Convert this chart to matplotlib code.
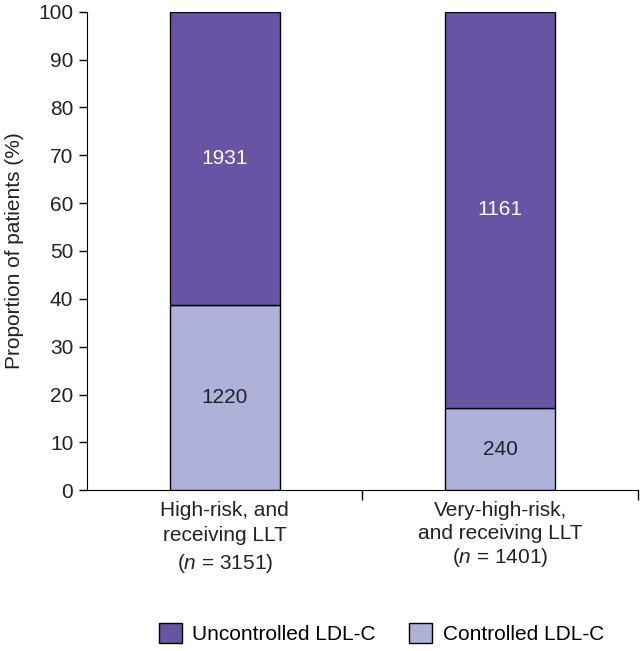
import numpy as np
import matplotlib
matplotlib.use('Agg')
import matplotlib.pyplot as plt

plt.rcParams['font.family'] = ['Liberation Sans', 'DejaVu Sans']
plt.rcParams['mathtext.fontset'] = 'custom'
plt.rcParams['mathtext.it'] = 'Liberation Sans:italic'
plt.rcParams['mathtext.rm'] = 'Liberation Sans'

# data
groups = ['High-risk, and\nreceiving LLT\n($\\it{n}$ = 3151)',
          'Very-high-risk,\nand receiving LLT\n($\\it{n}$ = 1401)']
controlled = np.array([1220, 240])
uncontrolled = np.array([1931, 1161])
total = controlled + uncontrolled
pct_ctrl = controlled / total * 100
pct_unctrl = uncontrolled / total * 100

dark = '#6754a5'
light = '#aeb1da'
txt = '#222222'
fs = 15

fig = plt.figure(figsize=(6.41, 6.51), dpi=100)
ax = fig.add_axes([0.136, 0.247, 0.859, 0.735])

x = np.array([0.5, 1.5])
w = 0.4
ax.bar(x, pct_ctrl, w, color=light, edgecolor='black', linewidth=1, label='Controlled LDL-C')
ax.bar(x, pct_unctrl, w, bottom=pct_ctrl, color=dark, edgecolor='black', linewidth=1,
       label='Uncontrolled LDL-C')

for xi, c, u, pc, pu in zip(x, controlled, uncontrolled, pct_ctrl, pct_unctrl):
    ax.text(xi, pc / 2, str(c), ha='center', va='center', fontsize=fs, color=txt)
    ax.text(xi, pc + pu / 2, str(u), ha='center', va='center', fontsize=fs, color='white')

ax.set_xlim(0, 2)
ax.set_ylim(0, 100)
ax.set_yticks(np.arange(0, 101, 10))
ax.set_xticks([1, 2])
ax.set_xticklabels([])
ax.set_xticks(x, minor=True)
lbls = ax.set_xticklabels(groups, minor=True, fontsize=fs, color=txt)
lbls[0].set_linespacing(1.4)
lbls[1].set_linespacing(1.22)
ax.tick_params(axis='x', which='minor', length=0, pad=8)
ax.tick_params(axis='x', which='major', length=7, width=1, direction='out')
ax.tick_params(axis='y', length=6, width=1, labelsize=fs, pad=4, labelcolor=txt)
ax.spines['top'].set_visible(False)
ax.spines['right'].set_visible(False)
ax.set_ylabel('Proportion of patients (%)', fontsize=fs, color=txt, labelpad=10)

handles, labels = ax.get_legend_handles_labels()
fig.legend(handles[::-1], labels[::-1], loc='center', bbox_to_anchor=(0.595, 0.027),
           ncol=2, frameon=False, fontsize=fs, handlelength=1.1, handleheight=1.1,
           columnspacing=1.6, handletextpad=0.5)

plt.savefig('out.png', dpi=100)
